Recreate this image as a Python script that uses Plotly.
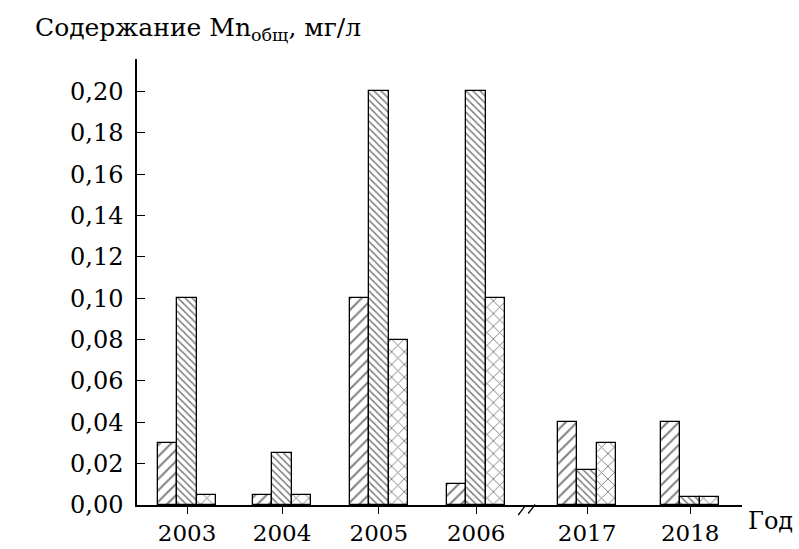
import plotly.graph_objects as go

# Data: total manganese content by year (three sampling series)
years = ["2003", "2004", "2005", "2006", "2017", "2018"]
series_a = [0.030, 0.005, 0.100, 0.010, 0.040, 0.040]
series_b = [0.100, 0.025, 0.200, 0.200, 0.017, 0.004]
series_c = [0.005, 0.005, 0.080, 0.100, 0.030, 0.004]
y_ticks = [0.00, 0.02, 0.04, 0.06, 0.08, 0.10, 0.12, 0.14, 0.16, 0.18, 0.20]

# Horizontal layout: broken axis between 2006 and 2017
x_pos = [0, 0.986, 1.99, 3.0, 4.15, 5.22]
break_marks = [3.472, 3.576]
bar_w = 0.2025

FONT = "DejaVu Serif"

fig = go.Figure()
patterns = [
    dict(shape="/", size=8, solidity=0.25),
    dict(shape="\\", size=5, solidity=0.3),
    dict(shape="x", size=9, solidity=0.2),
]
for i, (vals, pat) in enumerate(zip([series_a, series_b, series_c], patterns)):
    fig.add_trace(go.Bar(
        x=x_pos, y=vals,
        width=bar_w,
        offset=-1.5 * bar_w + i * bar_w,
        marker=dict(
            color="white",
            line=dict(color="black", width=1.3),
            pattern=dict(fgcolor="black", bgcolor="white", **pat),
        ),
        showlegend=False,
        hoverinfo="x+y",
    ))

# Axis-break mark "//"
for xm, yc in zip(break_marks, (-0.0123, -0.009)):
    fig.add_shape(type="line", xref="x", yref="paper",
                  x0=xm - 0.036, y0=yc - 0.0101,
                  x1=xm + 0.036, y1=yc + 0.0101,
                  line=dict(color="black", width=1.3))

fig.update_layout(
    width=799, height=549,
    margin=dict(l=137, r=57, t=59, b=44),
    paper_bgcolor="white", plot_bgcolor="white",
    font=dict(family=FONT, color="black", size=24),
    bargap=0,
    xaxis=dict(
        range=[-0.519, 5.758], automargin=False,
        tickmode="array", tickvals=x_pos, ticktext=years,
        ticks="outside", ticklen=7, tickwidth=1.3, tickcolor="black",
        showline=True, linecolor="black", linewidth=1.5,
        showgrid=False, zeroline=False,
        tickfont=dict(family=FONT, size=23),
    ),
    yaxis=dict(
        range=[0, 0.2157], automargin=False,
        tickmode="array", tickvals=y_ticks,
        ticktext=[f"{v:.2f}".replace(".", ",") for v in y_ticks],
        ticks="inside", ticklen=8, tickwidth=1.3, tickcolor="black",
        ticklabelstandoff=7,
        showline=True, linecolor="black", linewidth=1.5,
        showgrid=False, zeroline=False,
        tickfont=dict(family=FONT, size=24),
    ),
    annotations=[
        dict(text="Содержание Mn<sub>общ</sub>, мг/л",
             xref="paper", yref="paper", x=-0.172, y=1.068,
             xanchor="left", yanchor="middle", showarrow=False,
             font=dict(family=FONT, size=25)),
        dict(text="Год", xref="paper", yref="paper", x=1.007, y=-0.035,
             xanchor="left", yanchor="middle", showarrow=False,
             font=dict(family=FONT, size=24)),
    ],
)

fig.write_html("out.html")
